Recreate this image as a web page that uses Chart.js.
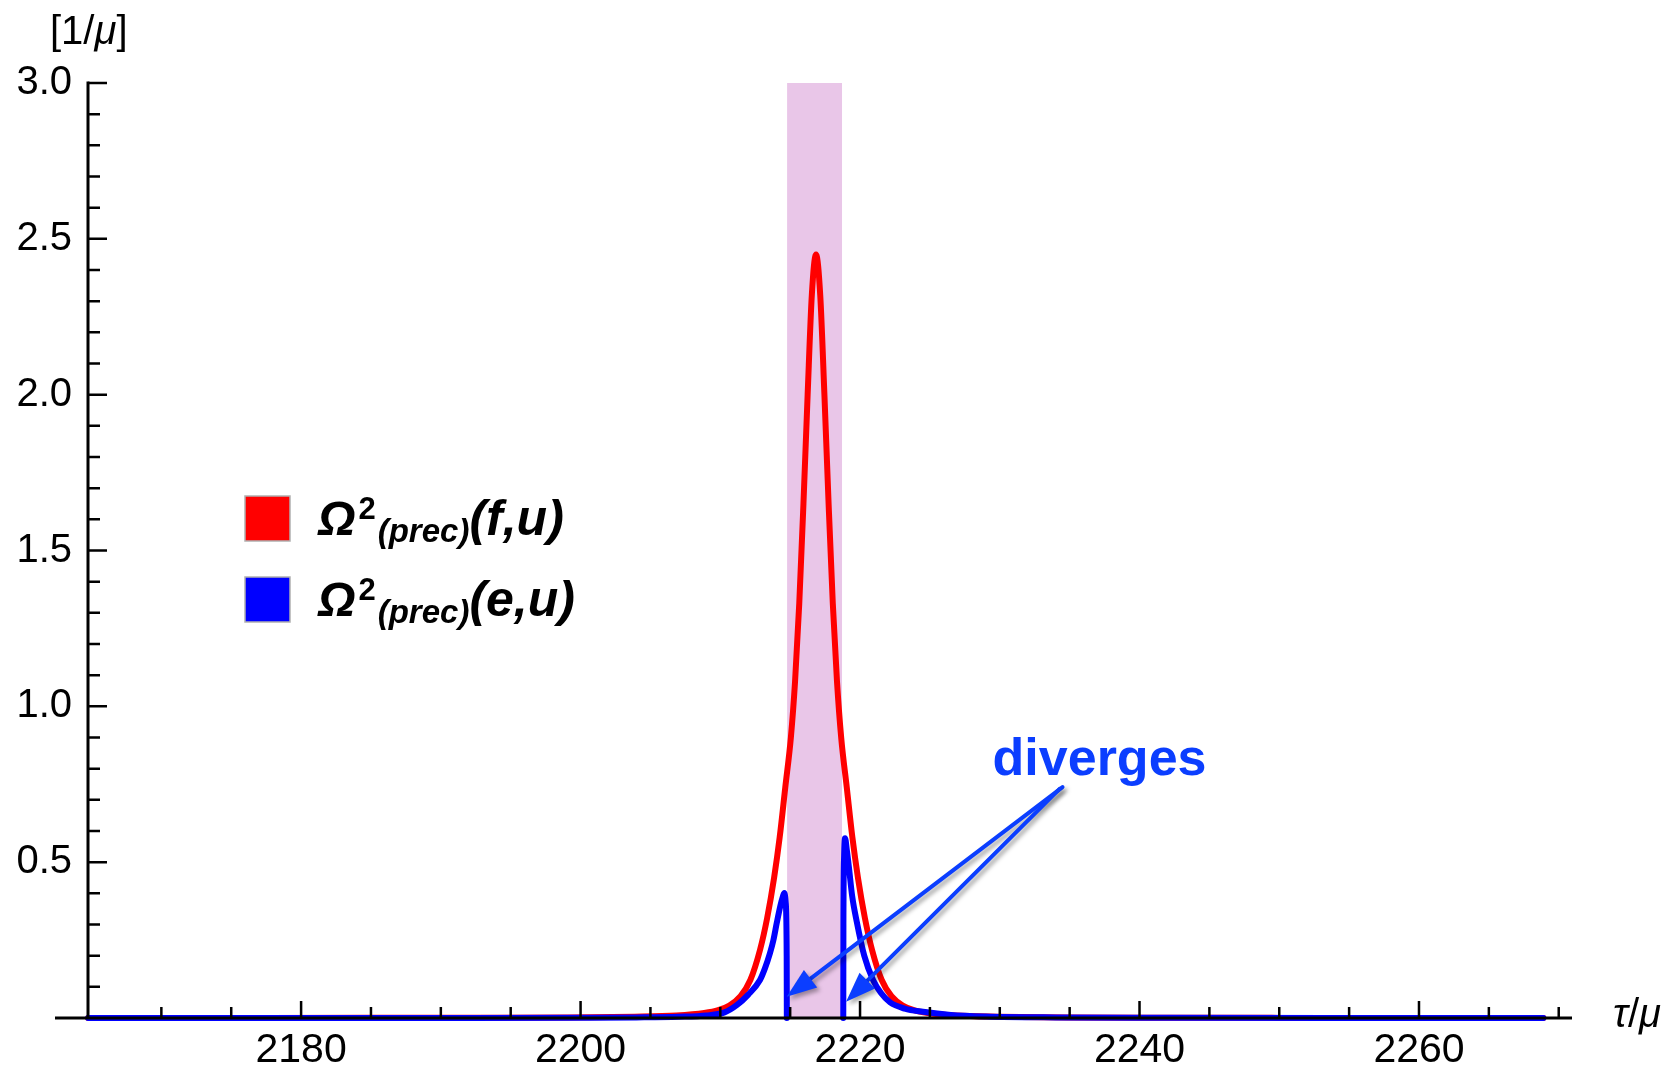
<!DOCTYPE html>
<html>
<head>
<meta charset="utf-8">
<script src="https://cdn.jsdelivr.net/npm/chart.js@4.4.0/dist/chart.umd.min.js"></script>
<style>
  html, body { margin: 0; padding: 0; background: #fff; }
  #wrap { width: 1669px; height: 1068px; }
</style>
</head>
<body>
<div id="wrap"><canvas id="plot" width="1669" height="1068"></canvas></div>
<script>
// axis ranges and tick labels
const xRange = [2164.75, 2270.95];
const yRange = [0, 3.0];
const xTickLabels = [2180, 2200, 2220, 2240, 2260];
const yTickLabels = [0.5, 1.0, 1.5, 2.0, 2.5, 3.0];

// shaded window (tau/mu)
const bandRange = [2214.78, 2218.71];

// Omega^2 (prec)(f,u) - red
const redX = [2164.76, 2175, 2185, 2192, 2198.85, 2203.85, 2206.85, 2208.85, 2209.85, 2210.65,
  2211.45, 2212.15, 2212.85, 2213.35, 2213.85, 2214.25, 2214.65, 2215.05, 2215.35, 2215.65,
  2215.95, 2216.25, 2216.55, 2216.85, 2217.15, 2217.45, 2217.75, 2218.05, 2218.35, 2218.65,
  2219.05, 2219.45, 2219.85, 2220.35, 2220.85, 2221.55, 2222.25, 2223.05, 2223.85, 2224.85,
  2226.85, 2229.85, 2234.85, 2241.85, 2250, 2260, 2268.9];
const redY = [0, 0.0003, 0.0005, 0.0008, 0.0015, 0.004, 0.008, 0.016, 0.025, 0.04,
  0.07, 0.122, 0.22, 0.32, 0.45, 0.58, 0.74, 0.9, 1.08, 1.33,
  1.65, 2.0, 2.32, 2.45, 2.32, 2.0, 1.65, 1.33, 1.08, 0.9,
  0.74, 0.58, 0.45, 0.32, 0.22, 0.122, 0.07, 0.04, 0.025, 0.016,
  0.008, 0.004, 0.0015, 0.0007, 0.0004, 0.0002, 0.0001];

// Omega^2 (prec)(e,u) - blue, null = divergence gap
const blueX = [2164.76, 2180, 2192, 2200, 2204, 2207, 2209, 2210.3, 2211.2, 2212.0,
  2212.84, 2213.2, 2213.56, 2213.8, 2214.04, 2214.3, 2214.48, 2214.58, 2214.68, 2214.75,
  2214.76, 2216.8, 2218.8, 2218.81, 2218.86, 2218.93, 2219.05, 2219.2, 2219.44, 2219.76,
  2220.3, 2220.93, 2221.5, 2222.15, 2223.2, 2224.5, 2226.5, 2229, 2234, 2242,
  2255, 2268.9];
const blueY = [0, 0.0002, 0.0004, 0.001, 0.002, 0.004, 0.008, 0.018, 0.042, 0.075,
  0.122, 0.16, 0.209, 0.25, 0.305, 0.36, 0.39, 0.401, 0.37, 0.2,
  0, null, 0, 0.3, 0.52, 0.577, 0.54, 0.485, 0.39, 0.31,
  0.2, 0.122, 0.08, 0.05, 0.03, 0.02, 0.01, 0.005, 0.002, 0.0008,
  0.0003, 0.0001];

// annotation arrows: [tailX, tailY, headX, headY] in data units
const arrowTails = [[2234.49, 0.741], [2234.28, 0.735]];
const arrowHeads = [[2214.75, 0.068], [2219.0, 0.052]];

const BLUE_NOTE = '#0b3eff';
const FONT = '"Liberation Sans", Arial, sans-serif';

function toPoints(xs, ys) {
    return xs.map((x, i) => ({ x: x, y: ys[i] }));
}

// draw a run of text pieces with their own font and vertical shift
function drawRuns(ctx, x, y, runs) {
    runs.forEach(r => {
        ctx.font = r.font;
        ctx.fillText(r.text, x, y + (r.dy || 0));
        x += ctx.measureText(r.text).width + (r.gap || 0);
    });
}

function drawArrow(ctx, x1, y1, x2, y2) {
    const ang = Math.atan2(y2 - y1, x2 - x1);
    const headLen = 30, headW = 11;
    const bx = x2 - headLen * Math.cos(ang), by = y2 - headLen * Math.sin(ang);
    ctx.beginPath();
    ctx.moveTo(x1, y1);
    ctx.lineTo(bx, by);
    ctx.stroke();
    ctx.beginPath();
    ctx.moveTo(x2, y2);
    ctx.lineTo(bx + headW * Math.sin(ang), by - headW * Math.cos(ang));
    ctx.lineTo(bx - headW * Math.sin(ang), by + headW * Math.cos(ang));
    ctx.closePath();
    ctx.fill();
}

const mmaStyle = {
    id: 'mmaStyle',
    beforeDatasetsDraw(chart) {
        const ctx = chart.ctx, xs = chart.scales.x, ys = chart.scales.y;
        const l = xs.getPixelForValue(bandRange[0]), r = xs.getPixelForValue(bandRange[1]);
        const t = ys.getPixelForValue(yRange[1]), b = ys.getPixelForValue(0);
        ctx.save();
        ctx.fillStyle = 'rgb(233, 198, 232)';
        ctx.fillRect(l, t, r - l, b - t);
        ctx.restore();
    },
    afterDatasetsDraw(chart) {
        const ctx = chart.ctx, xs = chart.scales.x, ys = chart.scales.y;
        const area = chart.chartArea;
        const x0 = xs.getPixelForValue(xRange[0]);
        const y0 = ys.getPixelForValue(0);
        ctx.save();

        // axes
        ctx.strokeStyle = '#000';
        ctx.lineWidth = 3;
        ctx.beginPath();
        ctx.moveTo(55, y0);
        ctx.lineTo(area.right, y0);
        ctx.moveTo(x0, y0);
        ctx.lineTo(x0, ys.getPixelForValue(yRange[1]) - 1.5);
        ctx.stroke();

        // x ticks (every 5, long every 20)
        ctx.lineWidth = 2.5;
        ctx.beginPath();
        for (let v = 2170; v <= 2270; v += 5) {
            const px = xs.getPixelForValue(v);
            const len = v % 20 === 0 ? 17 : 11;
            ctx.moveTo(px, y0);
            ctx.lineTo(px, y0 - len);
        }
        // y ticks (every 0.1, long every 0.5)
        for (let k = 1; k <= 30; k++) {
            const py = ys.getPixelForValue(k / 10);
            const len = k % 5 === 0 ? 19 : 12;
            ctx.moveTo(x0, py);
            ctx.lineTo(x0 + len, py);
        }
        ctx.stroke();

        // axis labels
        ctx.fillStyle = '#000';
        ctx.textBaseline = 'alphabetic';
        ctx.textAlign = 'left';
        drawRuns(ctx, 50, 44, [
            { text: '[1/', font: '40px ' + FONT },
            { text: 'μ', font: 'italic 40px ' + FONT },
            { text: ']', font: '40px ' + FONT }
        ]);
        drawRuns(ctx, area.right + 41, y0 + 9, [
            { text: 'τ', font: 'italic 40px ' + FONT },
            { text: '/', font: '40px ' + FONT },
            { text: 'μ', font: 'italic 40px ' + FONT }
        ]);

        // legend
        const lx = area.left + 157;
        const entries = [['#ff0000', 'f'], ['#0000ff', 'e']];
        entries.forEach((e, i) => {
            const top = area.top + 413 + i * 81;
            ctx.fillStyle = e[0];
            ctx.fillRect(lx, top, 45, 45);
            ctx.strokeStyle = '#b0b0b0';
            ctx.lineWidth = 1.5;
            ctx.strokeRect(lx, top, 45, 45);
            ctx.fillStyle = '#000';
            drawRuns(ctx, lx + 73, top + 39, [
                { text: 'Ω', font: 'italic bold 48px ' + FONT, gap: 3 },
                { text: '2', font: 'bold 31px ' + FONT, dy: -16, gap: 2 },
                { text: '(prec)', font: 'italic bold 33px ' + FONT, dy: 7 },
                { text: '(' + e[1] + ',u)', font: 'italic bold 50px ' + FONT }
            ]);
        });

        // "diverges" note with arrows
        const tails = arrowTails.map(p => [xs.getPixelForValue(p[0]), ys.getPixelForValue(p[1])]);
        ctx.fillStyle = BLUE_NOTE;
        ctx.font = 'bold 52px ' + FONT;
        ctx.textAlign = 'center';
        ctx.fillText('diverges', tails[0][0] + 37, tails[0][1] - 12);

        ctx.strokeStyle = BLUE_NOTE;
        ctx.lineWidth = 4;
        ctx.lineCap = 'round';
        ctx.shadowColor = 'rgba(0,0,0,0.35)';
        ctx.shadowBlur = 4;
        ctx.shadowOffsetX = 3;
        ctx.shadowOffsetY = 3;
        arrowHeads.forEach((h, i) => {
            drawArrow(ctx, tails[i][0], tails[i][1],
                xs.getPixelForValue(h[0]), ys.getPixelForValue(h[1]));
        });
        ctx.restore();
    }
};

new Chart(document.getElementById('plot').getContext('2d'), {
    type: 'scatter',
    data: {
        datasets: [{
            label: 'f,u',
            data: toPoints(redX, redY),
            order: 2,
            showLine: true,
            borderColor: '#ff0000',
            borderWidth: 6,
            pointRadius: 0,
            cubicInterpolationMode: 'monotone',
            borderJoinStyle: 'round',
            borderCapStyle: 'round',
            clip: 6
        }, {
            label: 'e,u',
            data: toPoints(blueX, blueY),
            order: 1,
            showLine: true,
            spanGaps: false,
            borderColor: '#0000ff',
            borderWidth: 6,
            pointRadius: 0,
            cubicInterpolationMode: 'monotone',
            borderJoinStyle: 'round',
            borderCapStyle: 'round',
            clip: 6
        }]
    },
    options: {
        responsive: false,
        animation: false,
        devicePixelRatio: 1,
        layout: { padding: { top: 83, right: 97, left: 0, bottom: 0 } },
        plugins: {
            legend: { display: false },
            tooltip: { enabled: false }
        },
        scales: {
            x: {
                type: 'linear',
                min: xRange[0],
                max: xRange[1],
                afterBuildTicks: s => { s.ticks = xTickLabels.map(v => ({ value: v })); },
                afterFit: s => { s.height = 50; },
                grid: { display: false, drawTicks: false },
                border: { display: false },
                ticks: {
                    autoSkip: false,
                    maxRotation: 0,
                    padding: 8,
                    color: '#000',
                    font: { family: FONT, size: 41 },
                    callback: v => String(v)
                }
            },
            y: {
                type: 'linear',
                min: yRange[0],
                max: yRange[1],
                afterBuildTicks: s => { s.ticks = yTickLabels.map(v => ({ value: v })); },
                afterFit: s => { s.width = 88; },
                grid: { display: false, drawTicks: false },
                border: { display: false },
                ticks: {
                    padding: 16,
                    color: '#000',
                    font: { family: FONT, size: 40 },
                    callback: v => v.toFixed(1)
                }
            }
        }
    },
    plugins: [mmaStyle]
});
</script>
</body>
</html>
